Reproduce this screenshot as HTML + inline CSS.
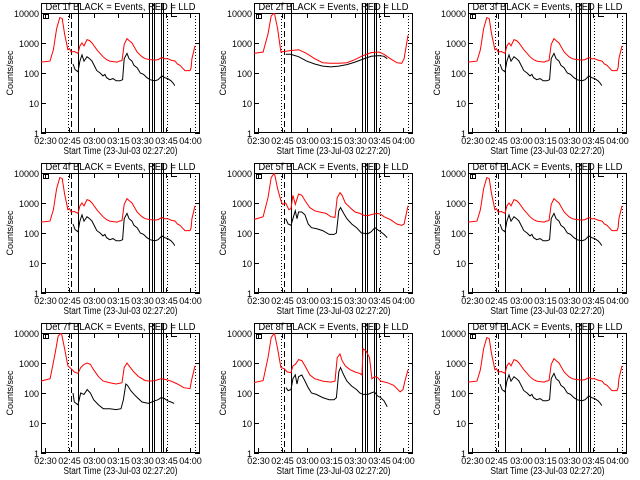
<!DOCTYPE html>
<html><head><meta charset="utf-8"><style>
body{margin:0;background:#fff}
svg{display:block;font-family:"Liberation Sans",sans-serif}
</style></head><body>
<svg id="chart" width="640" height="480" viewBox="0 0 640 480" xmlns="http://www.w3.org/2000/svg"></svg>
<script>
const detNames = ["1f","2f","3f","4f","5f","6f","7f","8f","9f"];
const xTickLabels = ["02:30","02:45","03:00","03:15","03:30","03:45","04:00"];
const xTickMinutes = [0,15,30,45,60,75,90];
const yTickLabels = ["1","10","100","1000","10000"];
const yTickValues = [1,10,100,1000,10000];
const dottedLines = [14.1,75.5,92.9];
const dashedLines = [16.0];
const solidLines = [20.3,64.4,66.2,67.5,71.8,73.1];

const redA = [[-2.7,230],[2.9,250],[5,600],[7,3000],[9,7000],[10.5,6500],[12,2000],[14,600],[15,650],[16,500],[18,520],[20.3,450],[21.5,800],[22.8,1000],[24,800],[25.9,1300],[27.5,1200],[29,1000],[32,600],[34,450],[35.8,350],[38,280],[40,250],[42,240],[44.5,230],[46,250],[47.6,260],[49,900],[50.7,1400],[52,1200],[53.8,1000],[57,500],[60,350],[62,300],[65,280],[68,270],[70,280],[72.4,330],[74,300],[76,300],[78,270],[80.5,250],[82,200],[83.6,180],[85,150],[86.7,120],[89.8,120],[90.5,150],[91,300],[92.9,800]];
const blackA = [[17.2,200],[18.5,130],[20.3,110],[21.5,250],[22.8,400],[24,250],[25.9,350],[27.5,300],[29,250],[32,120],[34,100],[35.8,80],[37,90],[38,70],[40,60],[42,65],[44,55],[46.4,55],[48,60],[49,300],[50.7,450],[52,300],[53.8,250],[55,180],[57,150],[59,100],[61,90],[63,70],[65,60],[68,55],[70,60],[72.4,80],[74,70],[76,65],[78,55],[79.5,45],[80.3,38]];
const red2 = [[-2.7,450],[3,500],[6,2000],[8,8000],[10,10000],[12,3000],[14,500],[16,520],[20,560],[25,600],[30,450],[35,300],[40,220],[45,210],[50,210],[55,220],[60,280],[65,380],[70,480],[75,500],[78,420],[82,300],[86,220],[89,210],[90.5,300],[92.9,1800]];
const black2 = [[17,420],[20,420],[25,350],[30,250],[35,200],[40,170],[45,160],[50,170],[55,190],[60,230],[65,290],[70,360],[75,380],[78,360],[80,300]];
const red5 = [[-2.7,280],[3,350],[6,1500],[8,7000],[10,10000],[12,3000],[14,1200],[15,900],[17,1000],[19,600],[20.3,650],[21.5,1800],[23,900],[25,2000],[27,1800],[29,1200],[32,700],[35,550],[38,500],[42,450],[45,350],[47.6,330],[49,1500],[50.7,2200],[52,1800],[54,1000],[57,700],[60,500],[63,450],[66,380],[68,380],[71,420],[74,450],[76,420],[78,350],[82,280],[86,200],[89,180],[90.5,200],[92.9,800]];
const black5 = [[17,300],[18.5,200],[20.3,180],[21.5,300],[23,550],[24,300],[25,500],[27,500],[29,400],[31,200],[33,150],[36,140],[40,120],[44,90],[47,90],[48.5,100],[50,550],[51,700],[53,450],[55,300],[58,200],[61,150],[64,100],[68,95],[70,110],[72.4,150],[74,130],[76,110],[78,90],[80,70]];
const red7 = [[-2.7,250],[3,300],[6,2000],[8,8000],[10,10000],[12,3000],[14,800],[16,650],[18,500],[20.3,450],[22,700],[24,900],[26,1000],[28,900],[30,600],[33,350],[36,250],[40,220],[44,200],[47.6,220],[49,700],[50.7,1000],[52,800],[55,500],[58,350],[62,260],[65,250],[68,260],[72,300],[75,280],[78,250],[82,200],[86,150],[89.8,140],[91,300],[92.9,800]];
const black7 = [[17.2,100],[18,50],[20.3,40],[22,100],[24,90],[26,130],[28,100],[30,60],[33,40],[36,30],[40,30],[44,28],[47,30],[48.5,60],[50,200],[51,180],[53,120],[56,80],[60,50],[64,45],[68,55],[70,60],[72,70],[74,65],[76,55],[78,50],[80,45]];
const red8 = [[-2.7,220],[3,260],[6,1500],[8,7000],[10,10000],[12,3000],[14,700],[16,650],[18,500],[20.3,480],[21.5,800],[23,900],[25,1300],[27,1200],[29,800],[32,400],[35,300],[40,250],[45,230],[47.6,250],[49,1500],[50.7,2000],[52,1200],[54,800],[57,600],[60,500],[63,450],[64.4,400],[65,3000],[67,2500],[69,1500],[70.5,300],[72.4,350],[74,330],[76,250],[80,220],[84,180],[88,110],[89.8,130],[91,250],[92.9,600]];
const black8 = [[17.2,150],[18.5,120],[20.3,130],[21.5,300],[23,400],[24,200],[25,350],[27,400],[29,250],[31,150],[33,100],[36,90],[40,70],[44,60],[47,60],[48.5,70],[50,500],[51,700],[53,400],[55,250],[58,170],[61,130],[63,100],[65,90],[68,90],[70,100],[72,110],[74,80],[76,70],[78,55],[80,35]];

const panelRed = [redA,red2,redA,redA,red5,redA,red7,red8,redA];
const panelBlack = [blackA,black2,blackA,blackA,black5,blackA,black7,black8,blackA];

const NS="http://www.w3.org/2000/svg";
const svg=document.getElementById('chart');
function mk(tag,attrs,parent){const e=document.createElementNS(NS,tag);for(const k in attrs)e.setAttribute(k,attrs[k]);(parent||svg).appendChild(e);return e;}

for(let i=0;i<9;i++){
  const col=i%3,row=Math.floor(i/3);
  const ox=[0,213,427][col],oy=row*160;
  const x0=ox+41,x1=ox+200,y0=oy+13,y1=oy+133;
  const xs=t=>x0+(t+2.667)*1.611;
  const ys=v=>y1-Math.log10(v)*30;
  const g=mk('g',{});
  
  
  const cp=mk('clipPath',{id:'cp'+i},g);
  mk('rect',{x:x0,y:y0,width:x1-x0,height:y1-y0},cp);
  mk('path',{d:`M${x0+0.5} ${y0} V${oy+3.5} H${x0+40}`,stroke:'#000',fill:'none','stroke-width':1},g);
  mk('path',{d:`M${x0+130.5} ${oy+3} V${oy+16.5} H${x0+136}`,stroke:'#000',fill:'none','stroke-width':1},g);
  mk('rect',{x:x0+2.5,y:y0+1.5,width:5,height:4,fill:'none',stroke:'#000','stroke-width':1},g);
  const title=mk('text',{x:(x0+x1)/2,y:oy+10,'font-size':10,'text-anchor':'middle',textLength:150,lengthAdjust:'spacingAndGlyphs'},g);
  title.textContent='Det '+detNames[i]+' BLACK = Events, RED = LLD';
  
  
  const box=mk('rect',{x:x0+0.5,y:y0+0.5,width:x1-x0-1,height:y1-y0-1,fill:'none',stroke:'#000','stroke-width':1},g);
  
  
  yTickValues.forEach((v,k)=>{
    const y=Math.round(ys(v))+0.5;
    mk('line',{x1:x0,x2:x0+5,y1:y,y2:y,stroke:'#000'},g);
    mk('line',{x1:x1-5,x2:x1,y1:y,y2:y,stroke:'#000'},g);
    const t=mk('text',{x:x0-2,y:y+3.5,'font-size':9,'text-anchor':'end'},g);
    t.textContent=yTickLabels[k];
    
    
  });
  xTickMinutes.forEach((m,k)=>{
    const x=Math.round(xs(m))+0.5;
    mk('line',{x1:x,x2:x,y1:y1,y2:y1-5,stroke:'#000'},g);
    mk('line',{x1:x,x2:x,y1:y0,y2:y0+5,stroke:'#000'},g);
    const t=mk('text',{x:x,y:y1+11,'font-size':9,'text-anchor':'middle'},g);
    t.textContent=xTickLabels[k];
    
    
  });
  const xl=mk('text',{x:(x0+x1)/2,y:y1+21,'font-size':10,'text-anchor':'middle',textLength:114,lengthAdjust:'spacingAndGlyphs'},g);
  xl.textContent='Start Time (23-Jul-03 02:27:20)';
  
  
  const yl=mk('text',{x:0,y:0,'font-size':9,'text-anchor':'middle',transform:`translate(${ox+13},${(y0+y1)/2}) rotate(-90)`},g);
  yl.textContent='Counts/sec';
  
  
  dottedLines.forEach(t=>{const x=Math.round(xs(t))+0.5;mk('line',{x1:x,x2:x,y1:y0,y2:y1,stroke:'#000','stroke-dasharray':'1,2'},g);});
  dashedLines.forEach(t=>{const x=Math.round(xs(t))+0.5;mk('line',{x1:x,x2:x,y1:y0,y2:y1,stroke:'#000','stroke-dasharray':'6,3'},g);});
  solidLines.forEach(t=>{const x=Math.round(xs(t))+0.5;mk('line',{x1:x,x2:x,y1:oy+3,y2:y1,stroke:'#000'},g);});
  const dg=mk('g',{'clip-path':`url(#cp${i})`},g);
  const r=mk('polyline',{points:panelRed[i].map(p=>xs(p[0]).toFixed(1)+','+ys(p[1]).toFixed(1)).join(' '),fill:'none',stroke:'#ff0000','stroke-width':1},dg);
  
  
  const b=mk('polyline',{points:panelBlack[i].map(p=>xs(p[0]).toFixed(1)+','+ys(p[1]).toFixed(1)).join(' '),fill:'none',stroke:'#000','stroke-width':1},dg);
  
  
}
</script>
</body></html>
